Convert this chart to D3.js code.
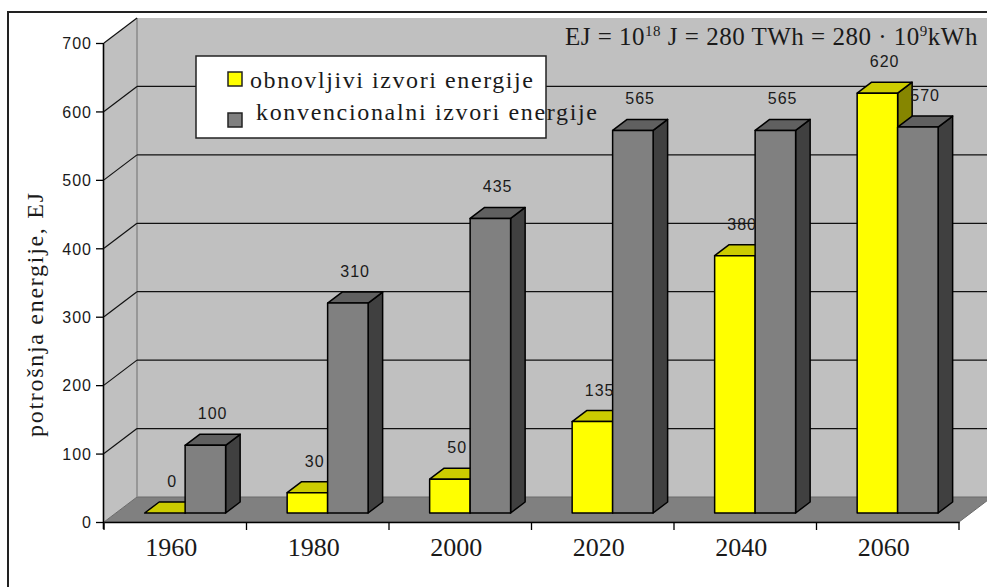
<!DOCTYPE html>
<html><head><meta charset="utf-8">
<script src="https://cdn.jsdelivr.net/npm/d3@7"></script>
<style>body{margin:0;background:#fff;overflow:hidden}svg{display:block}</style>
</head><body>
<svg id="c" width="987" height="587"></svg>
<script>
const categories = ["1960","1980","2000","2020","2040","2060"];
const renewable = [0, 30, 50, 135, 380, 620];
const conventional = [100, 310, 435, 565, 565, 570];
const yTicks = [0,100,200,300,400,500,600,700];
const seriesNames = ["obnovljivi izvori energije", " konvencionalni izvori energije"];
const yTitle = "potrošnja energije, EJ";

const svg = d3.select("#c");
const DX = 33, DY = -25;           // full depth offset
const F1 = 0.36, F2 = 0.80;        // bar depth range
const xFront0 = 104, xFront1 = 959;
const y = d3.scaleLinear().domain([0,700]).range([522,43]);
const h = d3.scaleLinear().domain([0,700]).range([0,474]);
const x0 = d3.scaleBand().domain(categories).range([xFront0, xFront1]).padding(0);
const x1 = d3.scaleBand().domain([0,1]).range([-2, x0.bandwidth()-2]).paddingInner(0).paddingOuter(0.76);
const P = (x, yy, f) => [x + DX*f, yy + DY*f];
const floorY = y(0);

// outer frame
svg.append("rect").attr("x",8).attr("y",12).attr("width",1100).attr("height",700)
  .attr("fill","none").attr("stroke","#222").attr("stroke-width",2);

// back wall
const bTop = P(xFront0, y(700), 1), bBot = P(xFront0, floorY, 1);
svg.append("rect").attr("x",bTop[0]).attr("y",bTop[1]).attr("width",1100).attr("height",bBot[1]-bTop[1])
  .attr("fill","#c0c0c0");
// left wall
const poly = pts => pts.map(p=>p.join(",")).join(" ");
svg.append("polygon").attr("points", poly([[xFront0,floorY],[xFront0,y(700)],P(xFront0,y(700),1),P(xFront0,floorY,1)]))
  .attr("fill","#c0c0c0");
// floor
svg.append("polygon").attr("points", poly([[xFront0,floorY],[xFront1,floorY],P(xFront1,floorY,1),P(xFront0,floorY,1)]))
  .attr("fill","#808080").attr("stroke","#6a6a6a").attr("stroke-width",1);
// wall corner edge
svg.append("line").attr("x1",bTop[0]).attr("y1",bTop[1]).attr("x2",bBot[0]).attr("y2",bBot[1])
  .attr("stroke","#8a8a8a").attr("stroke-width",1.5);

// gridlines
yTicks.filter(v=>v>0).forEach(v=>{
  const a=[xFront0,y(v)], b=P(xFront0,y(v),1);
  svg.append("line").attr("x1",a[0]).attr("y1",a[1]).attr("x2",b[0]).attr("y2",b[1])
    .attr("stroke","#111").attr("stroke-width",1.2);
  if (v<700) svg.append("line").attr("x1",b[0]).attr("y1",b[1]).attr("x2",1100).attr("y2",b[1])
    .attr("stroke","#111").attr("stroke-width",1.2);
});

// axes
const yAx = svg.append("g").attr("transform",`translate(${xFront0},0)`)
  .call(d3.axisLeft(y).tickValues(yTicks).tickSize(8).tickPadding(4));
yAx.select(".domain").attr("stroke","#000").attr("stroke-width",1.6).attr("d",`M-0.5,${y(700)}V${floorY+7}`);
yAx.selectAll(".tick line").attr("stroke","#000").attr("stroke-width",1.3);
yAx.selectAll(".tick text").attr("font-family","Liberation Sans, Arial, sans-serif").attr("font-size",16)
  .attr("letter-spacing","1px").attr("fill","#1a1a1a").attr("dy","0.36em");

const xAx = svg.append("g").attr("transform",`translate(0,${floorY})`)
  .call(d3.axisBottom(x0).tickSize(0).tickPadding(34));
xAx.select(".domain").attr("stroke","#000").attr("stroke-width",1.6);
xAx.selectAll(".tick text").attr("font-family","Liberation Serif, Times New Roman, serif").attr("font-size",26)
  .attr("fill","#1a1a1a").attr("dx",-4).attr("dy","0");
const xTickPos = categories.map(c=>x0(c)).concat([xFront1]);
svg.append("g").selectAll("line").data(xTickPos).join("line")
  .attr("x1",d=>d).attr("x2",d=>d).attr("y1",floorY).attr("y2",floorY+8)
  .attr("stroke","#000").attr("stroke-width",1.3);

// bars
const series = [
  {vals: renewable, front:"#ffff00", top:"#cccc00", side:"#868600"},
  {vals: conventional, front:"#808080", top:"#606060", side:"#404040"}
];
const bars = [];
categories.forEach((c,i)=>{
  series.forEach((s,j)=>{
    bars.push({c, j, v:s.vals[i], s});
  });
});
const gB = svg.append("g");
bars.forEach(b=>{
  const xl = x0(b.c) + x1(b.j), xr = xl + x1.bandwidth();
  const yb = floorY, yt = floorY - h(b.v);
  const g = gB.append("g").attr("stroke","#000").attr("stroke-width",1.5).attr("stroke-linejoin","round");
  g.append("polygon").attr("points", poly([P(xr,yb,F1),P(xr,yt,F1),P(xr,yt,F2),P(xr,yb,F2)])).attr("fill",b.s.side);
  g.append("polygon").attr("points", poly([P(xl,yt,F1),P(xr,yt,F1),P(xr,yt,F2),P(xl,yt,F2)])).attr("fill",b.s.top);
  if (b.v>0) g.append("polygon").attr("points", poly([P(xl,yb,F1),P(xr,yb,F1),P(xr,yt,F1),P(xl,yt,F1)])).attr("fill",b.s.front);
  const lp = P((xl+xr)/2, yt, (F1+F2)/2);
  svg.append("text").attr("x",lp[0]).attr("y",P(0,yt,F2)[1]-15).attr("text-anchor","middle")
    .attr("font-family","Liberation Sans, Arial, sans-serif").attr("font-size",16).attr("letter-spacing","1px")
    .attr("fill","#1a1a1a").text(b.v);
});

// formula
const ft = svg.append("text").attr("x",565).attr("y",45)
  .attr("font-family","Liberation Serif, Times New Roman, serif").attr("font-size",25)
  .attr("letter-spacing","0.5px").attr("fill","#1a1a1a");
ft.append("tspan").text("EJ = 10");
ft.append("tspan").attr("font-size",15).attr("dy",-9).text("18");
ft.append("tspan").attr("dy",9).text(" J = 280 TWh = 280 · 10");
ft.append("tspan").attr("font-size",15).attr("dy",-9).text("9");
ft.append("tspan").attr("dy",9).text("kWh");

// legend
svg.append("rect").attr("x",196).attr("y",56).attr("width",350).attr("height",82)
  .attr("fill","#fff").attr("stroke","#222").attr("stroke-width",1.5);
const legFill = ["#ffff00","#808080"];
const legY = [[72,88],[113,120]];
const legX = [250,256];
const legLen = [283,341];
seriesNames.forEach((n,i)=>{
  svg.append("rect").attr("x",228).attr("y",legY[i][0]).attr("width",14).attr("height",14)
    .attr("fill",legFill[i]).attr("stroke","#222").attr("stroke-width",1.5);
  svg.append("text").attr("x",legX[i]).attr("y",legY[i][1]).attr("font-family","Liberation Serif, Times New Roman, serif")
    .attr("font-size",24).attr("fill","#1a1a1a").attr("textLength",legLen[i]).attr("lengthAdjust","spacing")
    .text(n.trim());
});

// y title
svg.append("text").attr("transform","translate(43,315) rotate(-90)").attr("text-anchor","middle")
  .attr("font-family","Liberation Serif, Times New Roman, serif").attr("font-size",24).attr("fill","#1a1a1a")
  .attr("textLength",244).attr("lengthAdjust","spacing").text(yTitle);
</script>
</body></html>
